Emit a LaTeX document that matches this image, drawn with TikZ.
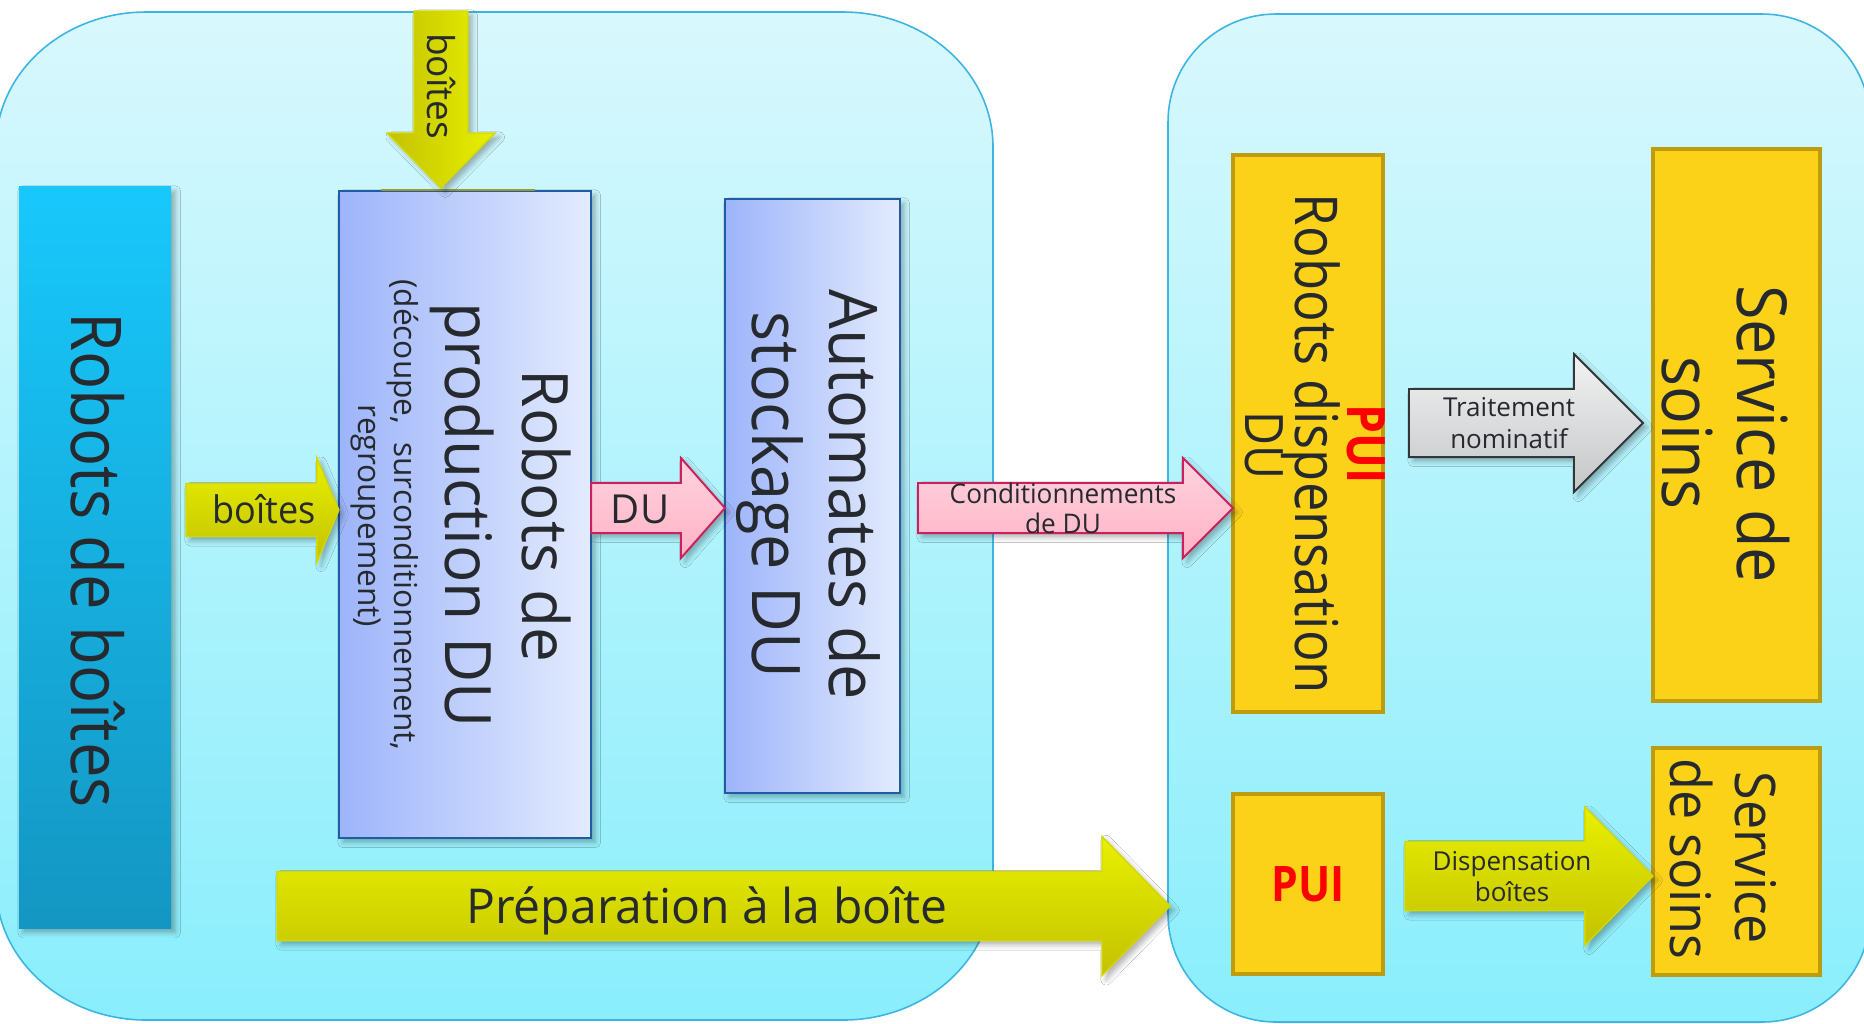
\documentclass[tikz,border=0pt]{standalone}
\usepackage{fontspec}
\setmainfont{Open Sans}
\usepackage{graphicx}
\usetikzlibrary{calc,shadows.blur}

\definecolor{panelTop}{HTML}{D8F8FD}
\definecolor{panelBot}{HTML}{8AEEFC}
\definecolor{panelBorder}{HTML}{3DB5E3}
\definecolor{rdbTop}{HTML}{18C8FC}
\definecolor{rdbBot}{HTML}{1496C2}
\definecolor{blueL}{HTML}{9DB4FA}
\definecolor{blueR}{HTML}{E3EBFD}
\definecolor{blueBorder}{HTML}{1F5CA6}
\definecolor{yelLight}{HTML}{E8F000}
\definecolor{yelDark}{HTML}{C4C200}
\definecolor{yelBorder}{HTML}{D4D800}
\definecolor{pinkTop}{HTML}{FFD3DE}
\definecolor{pinkBot}{HTML}{FFB2C6}
\definecolor{pinkBorder}{HTML}{CC1F5C}
\definecolor{grayTop}{HTML}{F2F2F2}
\definecolor{grayBot}{HTML}{C4C6C8}
\definecolor{grayBorder}{HTML}{333638}
\definecolor{gold}{HTML}{FCD219}
\definecolor{goldBorder}{HTML}{BD9C10}
\definecolor{txt}{HTML}{262A2E}
\definecolor{puired}{HTML}{FF0000}
\definecolor{oliveLine}{HTML}{9C9A2C}

\newcommand\fsz[1]{\fontsize{#1pt}{#1pt}\selectfont}
\newcommand\sqz[2]{\scalebox{#1}[1]{#2}}
\newcommand\pxu{0.28453}

% right-pointing block arrow: tail, tip, head length, shaft half, head half, style
\newcommand\blockR[6]{%
 \draw[#6] let \p1=(#1), \p2=(#2) in
  (\x1,{\y2+#4*\pxu}) -- ({\x2-#3*\pxu},{\y2+#4*\pxu}) -- ({\x2-#3*\pxu},{\y2+#5*\pxu})
  -- (\x2,\y2) -- ({\x2-#3*\pxu},{\y2-#5*\pxu}) -- ({\x2-#3*\pxu},{\y2-#4*\pxu})
  -- (\x1,{\y2-#4*\pxu}) -- cycle;}
% down-pointing block arrow
\newcommand\blockD[6]{%
 \draw[#6] let \p1=(#1), \p2=(#2) in
  ({\x2-#4*\pxu},\y1) -- ({\x2+#4*\pxu},\y1) -- ({\x2+#4*\pxu},{\y2+#3*\pxu})
  -- ({\x2+#5*\pxu},{\y2+#3*\pxu}) -- (\x2,\y2) -- ({\x2-#5*\pxu},{\y2+#3*\pxu})
  -- ({\x2-#4*\pxu},{\y2+#3*\pxu}) -- cycle;}
% panel with elliptical corners
\newcommand\panelpath[7]{%
 \path[#7] ({#1+#5},#2) -- ({#3-#5},#2)
  .. controls ({#3-#5+0.5523*#5},#2) and (#3,{#2+#6-0.5523*#6}) .. (#3,{#2+#6})
  -- (#3,{#4-#6})
  .. controls (#3,{#4-#6+0.5523*#6}) and ({#3-#5+0.5523*#5},#4) .. ({#3-#5},#4)
  -- ({#1+#5},#4)
  .. controls ({#1+#5-0.5523*#5},#4) and (#1,{#4-#6+0.5523*#6}) .. (#1,{#4-#6})
  -- (#1,{#2+#6})
  .. controls (#1,{#2+#6-0.5523*#6}) and ({#1+#5-0.5523*#5},#2) .. ({#1+#5},#2)
  -- cycle;}

\begin{document}
\begin{tikzpicture}[x=0.01cm, y=-0.01cm,
  lbl/.style={inner sep=0pt, outer sep=0pt, text=txt},
  vlbl/.style={lbl, rotate=-90, anchor=base},
  hlbl/.style={lbl, anchor=base},
  softshadow/.style={blur shadow={shadow xshift=1.2pt, shadow yshift=-1.2pt, shadow blur radius=1.5pt, shadow opacity=30}},
  panel/.style={draw=panelBorder, line width=0.45pt, top color=panelTop, bottom color=panelBot},
  cyanbox/.style={top color=rdbTop, bottom color=rdbBot, inner sep=0pt, outer sep=0pt, softshadow},
  bluebox/.style={draw=blueBorder, line width=0.55pt, left color=blueL, right color=blueR, inner sep=0pt, outer sep=0pt, softshadow},
  goldbox/.style={draw=goldBorder, line width=1.15pt, fill=gold, inner sep=0pt, outer sep=0pt},
  yelH/.style={draw=yelBorder, line width=0.4pt, top color=yelLight, bottom color=yelDark, softshadow},
  yelV/.style={draw=yelBorder, line width=0.4pt, left color=yelDark, right color=yelLight, softshadow},
  pinkA/.style={draw=pinkBorder, line width=0.55pt, top color=pinkTop, bottom color=pinkBot, softshadow},
  grayA/.style={draw=grayBorder, line width=0.55pt, top color=grayTop, bottom color=grayBot, softshadow}
]
\useasboundingbox (0,0) rectangle (1864,1023);
\clip (0,0) rectangle (1864,1023);
\fill[white] (0,0) rectangle (1864,1023);

% panels
\panelpath{-4}{12}{993}{1020}{150}{135}{panel}
\panelpath{1168}{14}{1870}{1022}{108}{108}{panel}

% boxes
\node[cyanbox, minimum width=1.52cm, minimum height=7.41cm] (b_rdb) at (95,557.5) {};
\node[bluebox, minimum width=2.52cm, minimum height=6.47cm] (b_prod) at (465,514.5) {};
\node[bluebox, minimum width=1.75cm, minimum height=5.94cm] (b_auto) at (812.5,496) {};
\node[goldbox, minimum width=1.50cm, minimum height=5.57cm] (b_rdisp) at (1308,433.5) {};
\node[goldbox, minimum width=1.67cm, minimum height=5.52cm] (b_sds) at (1736.5,425) {};
\node[goldbox, minimum width=1.50cm, minimum height=1.80cm] (b_pui) at (1308,884) {};
\node[goldbox, minimum width=1.67cm, minimum height=2.27cm] (b_sd) at (1736.5,861.5) {};

\draw[oliveLine, line width=0.6pt] (381,190) -- (535,190);

% connector end points
\coordinate (dn_tail) at (441,11);
\coordinate (dn_tip) at (441,188);
\coordinate (bx_tail) at (186,510);
\coordinate (cd_tail) at (918,508);
\coordinate (tr_tail) at (1409,423);
\coordinate (tr_tip) at (1643,423);
\coordinate (ds_tail) at (1405,876);
\coordinate (pr_tail) at (277,906);
\coordinate (pr_tip) at (1170,906);

% block arrows
\blockD{dn_tail}{dn_tip}{55}{27}{54}{yelV}
\blockR{bx_tail}{b_prod.west |- 0,510}{22}{26.5}{52}{yelH}
\blockR{b_prod.east |- 0,508}{b_auto.west |- 0,508}{44}{25}{50}{pinkA}
\blockR{cd_tail}{b_rdisp.west |- 0,508}{50}{25}{50}{pinkA}
\blockR{tr_tail}{tr_tip}{69}{34}{69}{grayA}
\blockR{ds_tail}{b_sd.west |- 0,876}{68}{34.5}{69}{yelH}
\blockR{pr_tail}{pr_tip}{68}{34.5}{69.5}{yelH}

% vertical labels
\node[vlbl, font=\fsz{19.92}] (t_rdb) at (71,560) {\sqz{0.905}{Robots de boîtes}};
\node[vlbl, font=\fsz{18.21}] (t_prod1) at (522,516) {\sqz{0.97}{Robots de}};
\node[vlbl, font=\fsz{18.21}] (t_prod2) at (445,515) {\sqz{0.97}{production DU}};
\node[vlbl, font=\fsz{9.0}] (t_prod3) at (394,515) {(découpe,\hspace{0.18cm}surconditionnement,};
\node[vlbl, font=\fsz{9.0}] (t_prod4) at (358,516) {regroupement)};
\node[vlbl, font=\fsz{19.06}] (t_auto1) at (829,495) {\sqz{0.94}{Automates de}};
\node[vlbl, font=\fsz{19.06}] (t_auto2) at (752,495) {\sqz{0.94}{stockage DU}};
\node[vlbl, font=\fsz{15.08}\bfseries, text=puired] (t_pui1) at (1347,444) {\sqz{0.87}{PUI}};
\node[vlbl, font=\fsz{16.79}] (t_rdisp) at (1295,444) {\sqz{0.89}{Robots dispensation}};
\node[vlbl, font=\fsz{15.08}] (t_du) at (1245,445) {\sqz{0.88}{DU}};
\node[vlbl, font=\fsz{19.63}] (t_sds1) at (1737,434) {\sqz{0.91}{Service de}};
\node[vlbl, font=\fsz{19.63}] (t_sds2) at (1662,433) {\sqz{0.91}{soins}};
\node[vlbl, font=\fsz{15.93}] (t_sd1) at (1735,858) {\sqz{0.93}{Service}};
\node[vlbl, font=\fsz{15.93}] (t_sd2) at (1670,859) {\sqz{0.93}{de soins}};
\node[vlbl, font=\fsz{10.53}] (t_bdown) at (427,86) {boîtes};

% horizontal labels
\node[hlbl, font=\fsz{10.8}] (t_boites) at (264,523) {\sqz{0.95}{boîtes}};
\node[hlbl, font=\fsz{11.38}] (t_du2) at (640,523) {DU};
\node[hlbl, font=\fsz{7.68}] (t_cond1) at (1063,503) {\sqz{0.97}{Conditionnements}};
\node[hlbl, font=\fsz{7.68}] (t_cond2) at (1063,533) {\sqz{0.97}{de DU}};
\node[hlbl, font=\fsz{7.4}] (t_trait1) at (1509,416) {Traitement};
\node[hlbl, font=\fsz{7.4}] (t_trait2) at (1509,448) {nominatif};
\node[hlbl, font=\fsz{7.4}] (t_disp1) at (1512,870) {Dispensation};
\node[hlbl, font=\fsz{7.4}] (t_disp2) at (1512,901) {boîtes};
\node[hlbl, font=\fsz{13.66}] (t_prep) at (707,923) {Préparation à la boîte};
\node[hlbl, font=\fsz{13.94}\bfseries, text=puired] (t_pui2) at (1308,901) {\sqz{0.87}{PUI}};
\end{tikzpicture}
\end{document}
